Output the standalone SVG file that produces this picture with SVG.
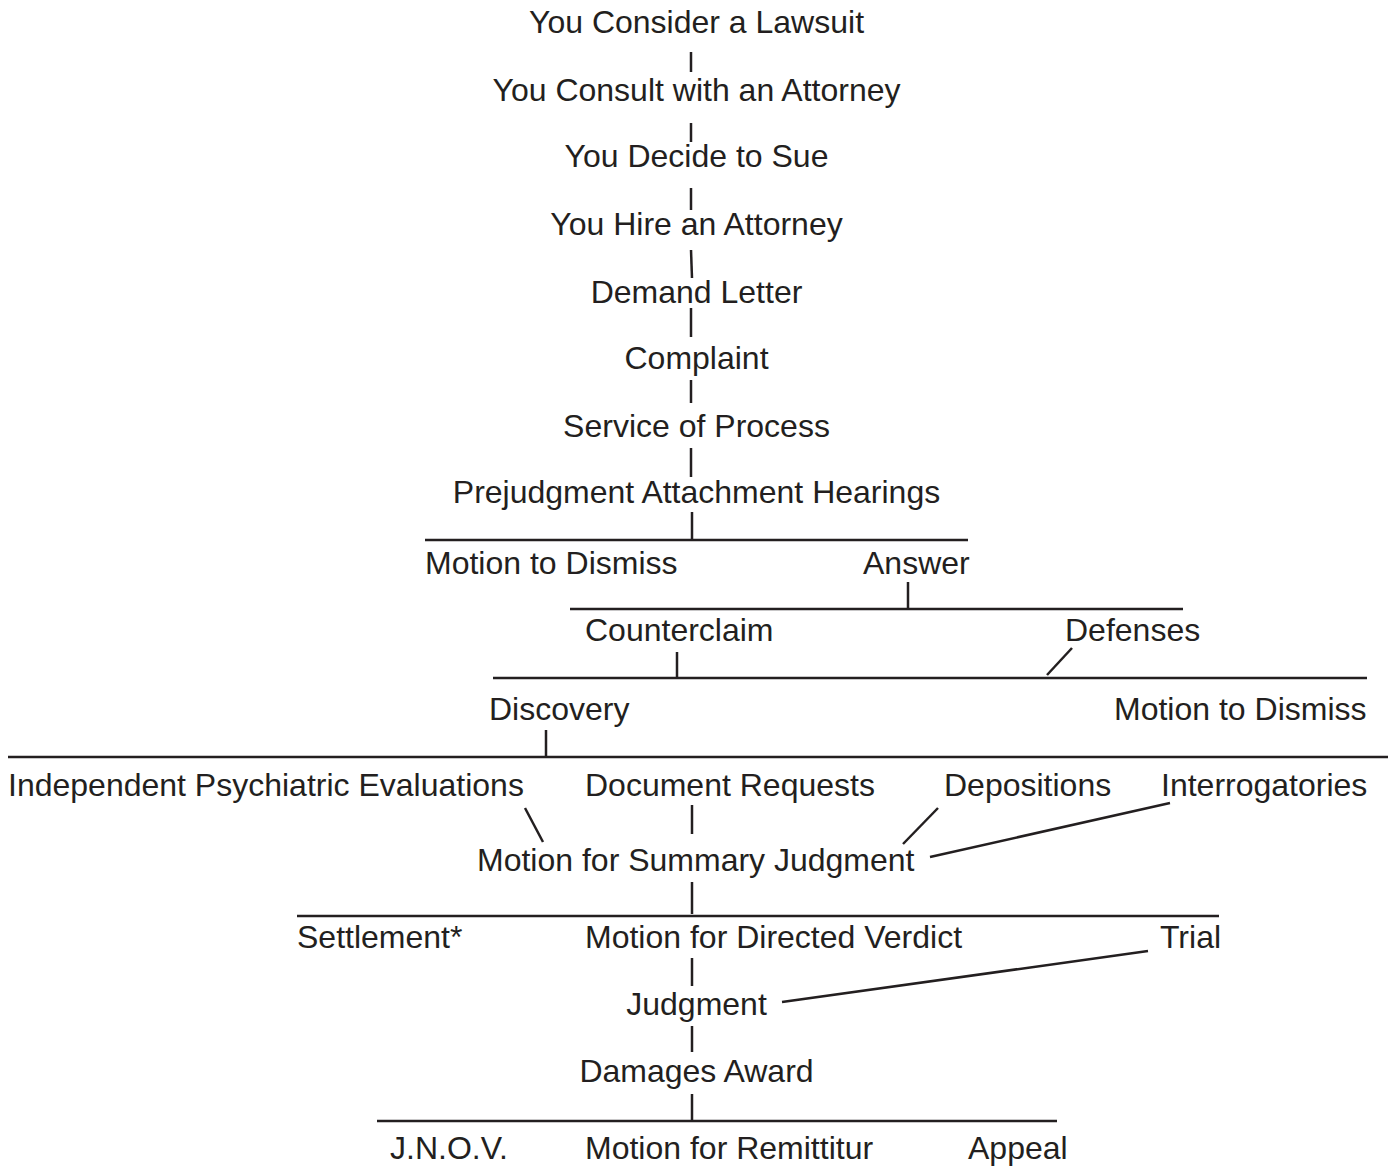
<svg xmlns="http://www.w3.org/2000/svg" width="1392" height="1166" viewBox="0 0 1392 1166">
<style>
text{font-family:"Liberation Sans",Arial,sans-serif;font-size:32px;fill:#231f20}
.c{text-anchor:middle}
line{stroke:#231f20;stroke-width:2.5;fill:none}
</style>
<rect width="1392" height="1166" fill="#fff"/>
<g id="connectors">
<line x1="691" y1="52" x2="691" y2="72"/>
<line x1="691" y1="123" x2="691" y2="142"/>
<line x1="691" y1="188" x2="691" y2="210"/>
<line x1="691" y1="250" x2="692" y2="278"/>
<line x1="691" y1="308" x2="691" y2="337"/>
<line x1="691" y1="380" x2="691" y2="403"/>
<line x1="691" y1="448" x2="691" y2="477"/>
<line x1="692" y1="512" x2="692" y2="540"/>
<line x1="425" y1="540" x2="968" y2="540"/>
<line x1="908" y1="582" x2="908" y2="609"/>
<line x1="570" y1="609" x2="1183" y2="609"/>
<line x1="677" y1="652" x2="677" y2="677"/>
<line x1="1072" y1="648" x2="1047" y2="675"/>
<line x1="493" y1="678" x2="1367" y2="678"/>
<line x1="546" y1="730" x2="546" y2="757"/>
<line x1="8" y1="757" x2="1388" y2="757"/>
<line x1="525" y1="808" x2="543" y2="842"/>
<line x1="692" y1="805" x2="692" y2="834"/>
<line x1="938" y1="808" x2="903" y2="844"/>
<line x1="1170" y1="803" x2="930" y2="857"/>
<line x1="692" y1="882" x2="692" y2="914"/>
<line x1="297" y1="916" x2="1219" y2="916"/>
<line x1="692" y1="958" x2="692" y2="986"/>
<line x1="1148" y1="951" x2="782" y2="1002"/>
<line x1="692" y1="1026" x2="692" y2="1052"/>
<line x1="692" y1="1094" x2="692" y2="1121"/>
<line x1="377" y1="1121" x2="1057" y2="1121"/>
</g>
<g id="n1"><text class="c" x="696.5" y="33">You Consider a Lawsuit</text></g>
<g id="n2"><text class="c" x="696.5" y="101">You Consult with an Attorney</text></g>
<g id="n3"><text class="c" x="696.5" y="167">You Decide to Sue</text></g>
<g id="n4"><text class="c" x="696.5" y="235">You Hire an Attorney</text></g>
<g id="n5"><text class="c" x="696.5" y="303">Demand Letter</text></g>
<g id="n6"><text class="c" x="696.5" y="369">Complaint</text></g>
<g id="n7"><text class="c" x="696.5" y="437">Service of Process</text></g>
<g id="n8"><text class="c" x="696.5" y="503">Prejudgment Attachment Hearings</text></g>
<g id="n9"><text x="425" y="574">Motion to Dismiss</text></g>
<g id="n10"><text x="863" y="574">Answer</text></g>
<g id="n11"><text x="585" y="641">Counterclaim</text></g>
<g id="n12"><text x="1065" y="641">Defenses</text></g>
<g id="n13"><text x="489" y="720">Discovery</text></g>
<g id="n14"><text x="1114" y="720">Motion to Dismiss</text></g>
<g id="n15"><text x="8" y="796">Independent Psychiatric Evaluations</text></g>
<g id="n16"><text x="585" y="796">Document Requests</text></g>
<g id="n17"><text x="944" y="796">Depositions</text></g>
<g id="n18"><text x="1161" y="796">Interrogatories</text></g>
<g id="n19"><text x="477" y="871">Motion for Summary Judgment</text></g>
<g id="n20"><text x="297" y="948">Settlement*</text></g>
<g id="n21"><text x="585" y="948">Motion for Directed Verdict</text></g>
<g id="n22"><text x="1160" y="948">Trial</text></g>
<g id="n23"><text class="c" x="696.5" y="1015">Judgment</text></g>
<g id="n24"><text class="c" x="696.5" y="1082">Damages Award</text></g>
<g id="n25"><text x="390" y="1159">J.N.O.V.</text></g>
<g id="n26"><text x="585" y="1159">Motion for Remittitur</text></g>
<g id="n27"><text x="968" y="1159">Appeal</text></g>
</svg>
